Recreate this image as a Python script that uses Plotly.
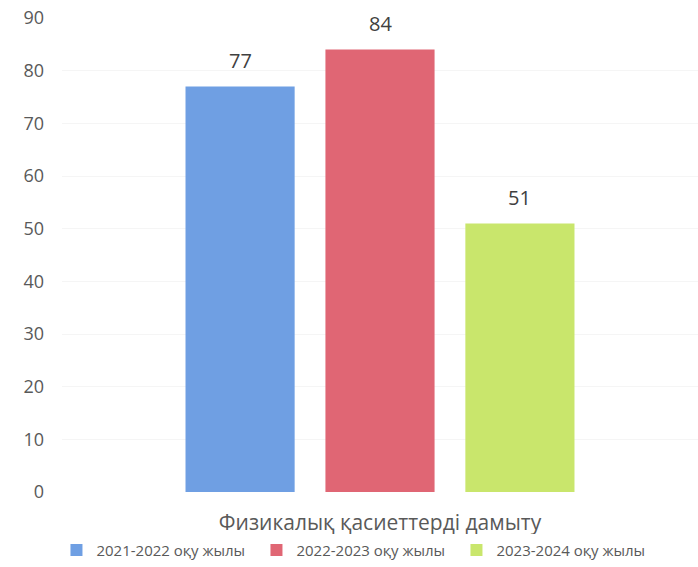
import plotly.graph_objects as go

category = ["Физикалық қасиеттерді дамыту"]
series_names = ["2021-2022 оқу жылы", "2022-2023 оқу жылы", "2023-2024 оқу жылы"]
series_values = [[77], [84], [51]]
colors = ["#6f9fe3", "#e06674", "#c9e66c"]
y_ticks = [0, 10, 20, 30, 40, 50, 60, 70, 80, 90]

W, H = 698, 567
ML, MR, MT, MB = 62, 0, 18, 75
BARGAP, BARGROUPGAP = 0.34, 0.22
plot_w = W - ML - MR
slot_px = plot_w * (1 - BARGAP) / len(series_names)

fig = go.Figure()
for name, vals, c in zip(series_names, series_values, colors):
    fig.add_trace(go.Bar(
        x=category, y=vals, name=name, marker=dict(color=c, line=dict(width=0)),
    ))

annotations = []
n = len(series_names)
for i, vals in enumerate(series_values):
    for cat, v in zip(category, vals):
        annotations.append(dict(
            x=cat, y=v, xref="x", yref="y", text=str(v), showarrow=False,
            xshift=(i - (n - 1) / 2) * slot_px, yshift=26, yanchor="middle",
            font=dict(size=20, color="#404040", family="Open Sans"),
        ))

fig.update_layout(
    width=W, height=H,
    margin=dict(l=ML, r=MR, t=MT, b=MB),
    barmode="group", bargap=BARGAP, bargroupgap=BARGROUPGAP,
    plot_bgcolor="white", paper_bgcolor="white",
    font=dict(family="Open Sans", color="#595959"),
    legend=dict(orientation="h", x=0.463, xanchor="center", y=-0.088, yanchor="top",
                font=dict(size=15, color="#595959"), itemwidth=30,
                entrywidth=155, entrywidthmode="pixels",
                traceorder="normal"),
    showlegend=True,
    annotations=annotations,
)
fig.update_yaxes(range=[0, 90], tickvals=y_ticks, showgrid=True, gridcolor="#f5f5f5",
                 zeroline=False, showline=False, tickfont=dict(size=18, color="#595959"),
                 ticklabelstandoff=17, automargin=False)
fig.update_xaxes(showline=False, tickfont=dict(size=21, color="#595959"), ticklen=0,
                 ticklabelstandoff=16, automargin=False)

fig.write_html("out.html", config={"displayModeBar": False},
               post_script="document.body.style.margin='0';")
